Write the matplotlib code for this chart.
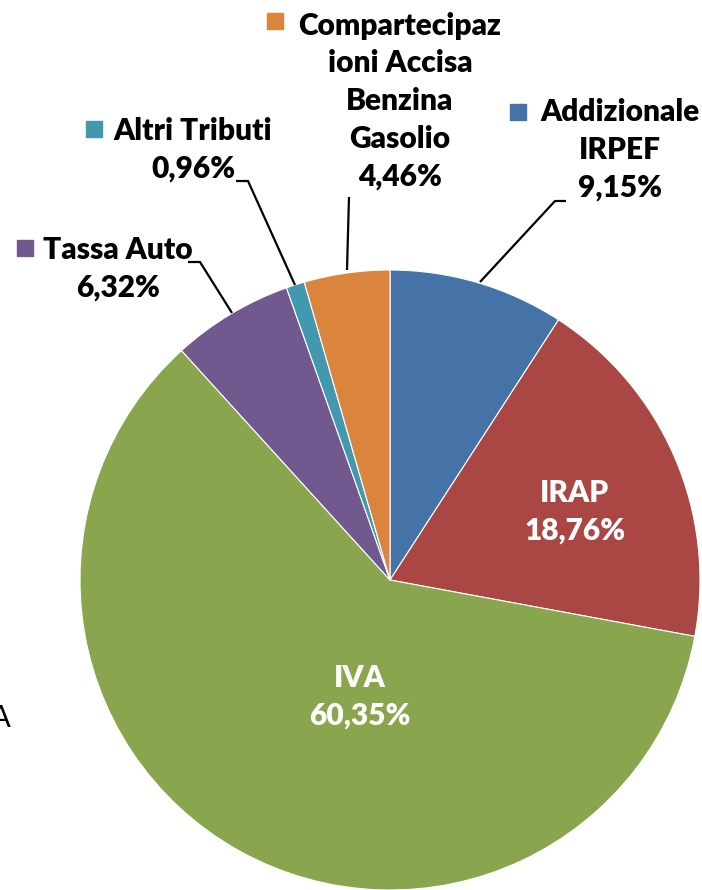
import matplotlib
matplotlib.use("Agg")
import matplotlib.pyplot as plt

labels = ["Addizionale\nIRPEF", "IRAP", "IVA", "Tassa Auto", "Altri Tributi",
          "Compartecipaz\nioni Accisa\nBenzina\nGasolio"]
values = [9.15, 18.76, 60.35, 6.32, 0.96, 4.46]
colors = ["#4572A7", "#AA4643", "#89A54E", "#71588F", "#4198AF", "#DB843D"]

plt.rcParams['font.family'] = ['Lato', 'DejaVu Sans']

fig = plt.figure(figsize=(7.02, 8.90), dpi=100)
ax = fig.add_axes([0, 0, 1, 1])
R = 310.0
CX, CY = 390.0, 580.0


def px(x, y):
    # pixel (from top-left) -> data units (pie radius = 1)
    return (x - CX) / R, (CY - y) / R


ax.pie(values, colors=colors, startangle=90, counterclock=False, radius=1,
       wedgeprops=dict(edgecolor='white', linewidth=0.8))

ax.set_xlim(px(0, 0)[0], px(702, 0)[0])
ax.set_ylim(px(0, 890)[1], px(0, 0)[1])
ax.set_aspect('equal')
ax.axis('off')

fs = 21.5
bold = dict(fontsize=fs, fontweight='heavy', ha='center', va='center', linespacing=1.42)


def pct(v):
    return ("%.2f%%" % v).replace('.', ',')


# inside labels
ax.text(*px(575, 512), labels[1] + "\n" + pct(values[1]), color='white', **bold)
ax.text(*px(360, 697), labels[2] + "\n" + pct(values[2]), color='white', **bold)

# outside labels: (text centre, legend square, leader line)
outside = [
    (0, (620, 150), (518, 112), [(480, 282), (555, 201), (566, 201)]),
    (3, (118, 269), (25, 248), [(232, 313), (200, 262), (188, 262)]),
    (4, (193, 150), (94, 129), [(295, 285), (248, 181), (236, 181)]),
    (5, (400, 101), (275, 21), [(347, 270), (349, 197)]),
]
for i, (tx, ty), (sx, sy), pts in outside:
    ax.text(*px(tx, ty), labels[i] + "\n" + pct(values[i]), color='black', **bold)
    ax.plot(*px(sx, sy), marker='s', markersize=11.5, color=colors[i],
            clip_on=False)
    xs = [px(a, b)[0] for a, b in pts]
    ys = [px(a, b)[1] for a, b in pts]
    ax.plot(xs, ys, color='black', linewidth=1.6, solid_capstyle='butt')

# cut-off text at left edge
ax.text(*px(11, 718), "IVA", fontsize=fs, color='black', ha='right', va='center')

fig.savefig("out.png", dpi=100)
